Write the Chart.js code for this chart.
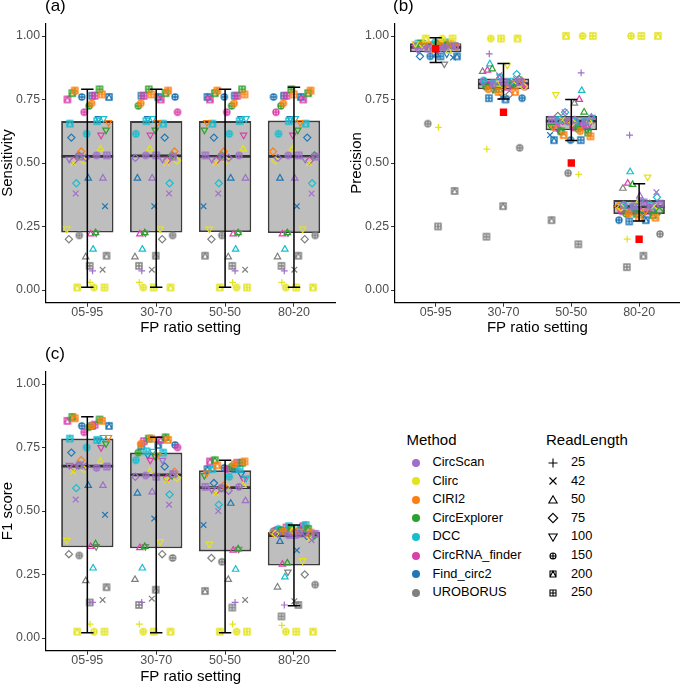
<!DOCTYPE html>
<html>
<head>
<meta charset="utf-8">
<script src="https://cdn.jsdelivr.net/npm/chart.js@4.4.0/dist/chart.umd.min.js"></script>
<style>
  body { margin: 0; background: #fff; width: 685px; height: 685px; position: relative; overflow: hidden;
         font-family: "Liberation Sans", Arial, Helvetica, sans-serif; }
  canvas { position: absolute; }
  .tag { position: absolute; font-size: 17px; line-height: 1; color: #000; }
  .lg { position: absolute; line-height: 1; color: #000; white-space: nowrap; }
  .lgTitle { font-size: 15px; }
  .lgItem { font-size: 12.8px; }
  .dot { position: absolute; width: 8px; height: 8px; border-radius: 50%; }
</style>
</head>
<body>
<canvas id="chartA" width="342" height="342" style="left:0;top:0"></canvas>
<canvas id="chartB" width="336" height="342" style="left:349px;top:0"></canvas>
<canvas id="chartC" width="342" height="343" style="left:0;top:342px"></canvas>
<div class="tag" style="left:45px;top:-3px">(a)</div>
<div class="tag" style="left:393px;top:-3px">(b)</div>
<div class="tag" style="left:45px;top:345px">(c)</div>
<div id="legend"></div>

<script>
const settings = ['05-95', '30-70', '50-50', '80-20'];
const methods = ['CircScan', 'Clirc', 'CIRI2', 'CircExplorer', 'DCC', 'CircRNA_finder', 'Find_circ2', 'UROBORUS'];
const readLengths = [25, 42, 50, 75, 100, 150, 200, 250];
const yTicks = [0, 0.25, 0.5, 0.75, 1];

const methodColors = ['#9F6FC9', '#E3E31C', '#FF7F0E', '#2CA02C', '#17BECF', '#DB3FA9', '#1F77B4', '#808080'];

// rows = methods, columns = read lengths; sensitivity hardly moves between settings
const sensitivity = [
  [0.075, 0.38, 0.44, 0.52, 0.515, 0.53, 0.525, 0.53],
  [0.03, 0.50, 0.555, 0.51, 0.24, 0.01, 0.01, 0.01],
  [null, null, null, 0.545, 0.66, 0.735, 0.785, 0.77],
  [null, null, 0.225, 0.53, 0.63, 0.725, 0.775, 0.79],
  [null, null, 0.16, 0.42, 0.675, 0.615, 0.655, 0.665],
  [null, null, 0.22, 0.51, 0.61, 0.70, 0.75, 0.765],
  [null, 0.33, 0.44, 0.60, 0.675, 0.76, 0.76, 0.765],
  [null, 0.08, 0.13, 0.20, 0.225, 0.215, 0.135, 0.095]
];

const precision0595 = [
  [0.95, 0.955, 0.96, 0.95, 0.945, 0.955, 0.95, 0.96],
  [0.64, 0.955, 0.94, 0.95, 0.97, 0.99, 0.99, 0.99],
  [null, null, null, 0.965, 0.96, 0.97, 0.965, 0.97],
  [null, null, 0.97, 0.96, 0.965, 0.97, 0.97, 0.965],
  [null, null, 0.96, 0.97, 0.97, 0.975, 0.97, 0.975],
  [null, null, 0.955, 0.965, 0.96, 0.965, 0.965, 0.96],
  [null, 0.915, 0.925, 0.92, 0.93, 0.92, 0.92, 0.92],
  [null, 0.96, 0.955, 0.96, 0.89, 0.655, 0.39, 0.25]
];
const precision3070 = [
  [0.93, 0.83, 0.835, 0.82, 0.815, 0.81, 0.82, 0.82],
  [0.555, 0.82, 0.81, 0.80, 0.885, 0.99, 0.99, 0.99],
  [null, null, null, 0.825, 0.805, 0.79, 0.78, 0.78],
  [null, null, 0.87, 0.83, 0.795, 0.80, 0.815, 0.79],
  [null, null, 0.89, 0.85, 0.84, 0.825, 0.82, 0.815],
  [null, null, 0.865, 0.81, 0.805, 0.80, 0.80, 0.81],
  [null, 0.76, 0.82, 0.81, 0.80, 0.755, 0.75, 0.755],
  [null, 0.845, 0.86, 0.77, 0.79, 0.56, 0.33, 0.21]
];
const precision5050 = [
  [0.855, 0.70, 0.68, 0.67, 0.665, 0.66, 0.665, 0.67],
  [0.455, 0.67, 0.665, 0.66, 0.77, 1.00, 1.00, 1.00],
  [null, null, null, 0.66, 0.64, 0.625, 0.61, 0.605],
  [null, null, 0.70, 0.665, 0.645, 0.635, 0.625, 0.62],
  [null, null, 0.785, 0.70, 0.68, 0.665, 0.67, 0.665],
  [null, null, 0.75, 0.665, 0.655, 0.64, 0.64, 0.645],
  [null, 0.61, 0.66, 0.625, 0.63, 0.59, 0.59, 0.59],
  [null, 0.665, 0.735, 0.685, 0.665, 0.46, 0.275, 0.18]
];
const precision8020 = [
  [0.61, 0.385, 0.37, 0.335, 0.33, 0.33, 0.34, 0.345],
  [0.20, 0.33, 0.34, 0.325, 0.445, 1.00, 1.00, 1.00],
  [null, null, null, 0.33, 0.31, 0.30, 0.285, 0.285],
  [null, null, 0.415, 0.31, 0.30, 0.30, 0.295, 0.30],
  [null, null, 0.465, 0.365, 0.35, 0.335, 0.33, 0.325],
  [null, null, 0.42, 0.33, 0.315, 0.31, 0.31, 0.31],
  [null, 0.30, 0.33, 0.31, 0.305, 0.275, 0.275, 0.27],
  [null, 0.33, 0.40, 0.34, 0.33, 0.22, 0.135, 0.09]
];
const expectedPrecision = [0.95, 0.70, 0.50, 0.20];

const f1_0595 = [
  [0.14, 0.545, 0.60, 0.675, 0.68, 0.67, 0.68, 0.675],
  [0.055, 0.655, 0.695, 0.665, 0.385, 0.025, 0.025, 0.025],
  [null, null, null, 0.70, 0.79, 0.835, 0.865, 0.855],
  [null, null, 0.37, 0.68, 0.765, 0.83, 0.87, 0.86],
  [null, null, 0.275, 0.59, 0.79, 0.75, 0.785, 0.78],
  [null, null, 0.36, 0.67, 0.75, 0.81, 0.855, 0.84],
  [null, 0.485, 0.60, 0.73, 0.78, 0.835, 0.835, 0.835],
  [null, 0.15, 0.225, 0.33, 0.36, 0.325, 0.20, 0.14]
];
const f1_3070 = [
  [0.14, 0.525, 0.575, 0.635, 0.70, 0.64, 0.645, 0.635],
  [0.055, 0.62, 0.655, 0.63, 0.38, 0.025, 0.025, 0.025],
  [null, null, null, 0.655, 0.72, 0.765, 0.78, 0.785],
  [null, null, 0.36, 0.64, 0.715, 0.73, 0.79, 0.785],
  [null, null, 0.275, 0.565, 0.735, 0.70, 0.73, 0.735],
  [null, null, 0.355, 0.63, 0.70, 0.75, 0.78, 0.775],
  [null, 0.47, 0.57, 0.675, 0.72, 0.76, 0.76, 0.755],
  [null, 0.155, 0.23, 0.33, 0.36, 0.315, 0.19, 0.13]
];
const f1_5050 = [
  [0.14, 0.50, 0.54, 0.58, 0.585, 0.595, 0.59, 0.595],
  [0.055, 0.57, 0.60, 0.595, 0.37, 0.025, 0.025, 0.025],
  [null, null, null, 0.60, 0.65, 0.685, 0.68, 0.695],
  [null, null, 0.35, 0.59, 0.64, 0.675, 0.70, 0.69],
  [null, null, 0.27, 0.525, 0.63, 0.635, 0.665, 0.665],
  [null, null, 0.345, 0.58, 0.625, 0.665, 0.695, 0.69],
  [null, 0.445, 0.53, 0.61, 0.645, 0.67, 0.665, 0.665],
  [null, 0.15, 0.23, 0.315, 0.35, 0.30, 0.185, 0.12]
];
const f1_8020 = [
  [0.13, 0.385, 0.40, 0.41, 0.41, 0.405, 0.41, 0.41],
  [0.05, 0.39, 0.42, 0.41, 0.305, 0.025, 0.025, 0.025],
  [null, null, null, 0.415, 0.42, 0.42, 0.415, 0.42],
  [null, null, 0.295, 0.405, 0.42, 0.425, 0.43, 0.43],
  [null, null, 0.24, 0.395, 0.435, 0.43, 0.445, 0.44],
  [null, null, 0.29, 0.405, 0.415, 0.425, 0.44, 0.435],
  [null, 0.345, 0.38, 0.40, 0.41, 0.42, 0.425, 0.42],
  [null, 0.145, 0.20, 0.25, 0.26, 0.21, 0.13, 0.085]
];

// box statistics, one value per setting
const sensQ1 = [0.226, 0.226, 0.228, 0.224];
const sensMedian = [0.526, 0.528, 0.526, 0.526];
const sensQ3 = [0.665, 0.665, 0.665, 0.667];
const sensLow = [0.011, 0.011, 0.011, 0.011];
const sensHigh = [0.79, 0.79, 0.79, 0.798];

const precQ1 = [0.936, 0.790, 0.629, 0.299];
const precMedian = [0.955, 0.812, 0.665, 0.328];
const precQ3 = [0.971, 0.833, 0.685, 0.354];
const precLow = [0.896, 0.752, 0.589, 0.272];
const precHigh = [0.993, 0.892, 0.750, 0.418];

const f1Q1 = [0.357, 0.353, 0.341, 0.285];
const f1Median = [0.677, 0.642, 0.592, 0.403];
const f1Q3 = [0.785, 0.730, 0.660, 0.417];
const f1Low = [0.021, 0.021, 0.021, 0.127];
const f1High = [0.871, 0.790, 0.700, 0.445];

Chart.defaults.font.family = '"Liberation Sans", Arial, Helvetica, sans-serif';

// shapes for 150 / 200 / 250 that Chart.js has no built-in style for
function drawSymbol(ctx, ri, cx, cy, color, lw) {
  ctx.strokeStyle = color;
  ctx.lineWidth = lw;
  ctx.beginPath();
  if (ri === 0) {
    ctx.moveTo(cx - 4.5, cy); ctx.lineTo(cx + 4.5, cy);
    ctx.moveTo(cx, cy - 4.5); ctx.lineTo(cx, cy + 4.5);
  } else if (ri === 1) {
    ctx.moveTo(cx - 3.5, cy - 3.5); ctx.lineTo(cx + 3.5, cy + 3.5);
    ctx.moveTo(cx + 3.5, cy - 3.5); ctx.lineTo(cx - 3.5, cy + 3.5);
  } else if (ri === 2) {
    ctx.moveTo(cx, cy - 4.2); ctx.lineTo(cx + 4.2, cy + 3); ctx.lineTo(cx - 4.2, cy + 3); ctx.closePath();
  } else if (ri === 3) {
    ctx.moveTo(cx, cy - 4.7); ctx.lineTo(cx + 4.7, cy); ctx.lineTo(cx, cy + 4.7); ctx.lineTo(cx - 4.7, cy); ctx.closePath();
  } else if (ri === 4) {
    ctx.moveTo(cx, cy + 4.2); ctx.lineTo(cx + 4.2, cy - 3); ctx.lineTo(cx - 4.2, cy - 3); ctx.closePath();
  } else if (ri === 5) {
    ctx.arc(cx, cy, 3, 0, Math.PI * 2);
    ctx.moveTo(cx - 3, cy); ctx.lineTo(cx + 3, cy);
    ctx.moveTo(cx, cy - 3); ctx.lineTo(cx, cy + 3);
  } else if (ri === 6) {
    ctx.rect(cx - 3, cy - 3, 6, 6);
    ctx.moveTo(cx - 3, cy + 3); ctx.lineTo(cx, cy - 3); ctx.lineTo(cx + 3, cy + 3);
  } else {
    ctx.rect(cx - 3, cy - 3, 6, 6);
    ctx.moveTo(cx - 3, cy); ctx.lineTo(cx + 3, cy);
    ctx.moveTo(cx, cy - 3); ctx.lineTo(cx, cy + 3);
  }
  ctx.stroke();
}

function symbolImage(ri, color) {
  const c = document.createElement('canvas');
  c.width = 10; c.height = 10;
  drawSymbol(c.getContext('2d'), ri, 5, 5, color, 1.4);
  return c;
}

const builtinStyles = ['cross', 'crossRot', 'triangle', 'rectRot', 'triangle'];
const pointStyles = methodColors.map(col =>
  builtinStyles.concat([5, 6, 7].map(ri => symbolImage(ri, col))));
const pointSizes = [3.4, 4, 3.7, 3.6, 3.7, 4, 4, 4];

// spreads the points of one setting sideways, like geom_jitter
function jitter(mi, ri, si) {
  const k = si * 64 + mi * 8 + ri + 1;
  return ((k * 0.6180339887) % 1 - 0.5) * 0.64;
}

const boxPlugin = {
  id: 'boxStats',
  afterDatasetDraw(chart, args, opts) {
    const { ctx } = chart;
    const x = chart.scales.x, y = chart.scales.y;
    const unit = x.getPixelForValue(2) - x.getPixelForValue(1);
    ctx.save();
    if (args.meta.type === 'bar') {
      ctx.strokeStyle = '#333';
      ctx.lineWidth = 2.8;
      opts.median.forEach((m, i) => {
        const px = x.getPixelForValue(i + 1), py = y.getPixelForValue(m);
        ctx.beginPath();
        ctx.moveTo(px - unit * 0.375, py); ctx.lineTo(px + unit * 0.375, py);
        ctx.stroke();
      });
    }
    if (args.index === 1) {
      ctx.strokeStyle = '#000';
      ctx.lineWidth = 1.5;
      opts.low.forEach((lo, i) => {
        const px = x.getPixelForValue(i + 1);
        const pLo = y.getPixelForValue(lo), pHi = y.getPixelForValue(opts.high[i]);
        const cap = unit * 0.09;
        ctx.beginPath();
        ctx.moveTo(px, pLo); ctx.lineTo(px, pHi);
        ctx.moveTo(px - cap, pLo); ctx.lineTo(px + cap, pLo);
        ctx.moveTo(px - cap, pHi); ctx.lineTo(px + cap, pHi);
        ctx.stroke();
      });
    }
    ctx.restore();
  }
};

function buildChart(id, cfg) {
  const canvas = document.getElementById(id);
  const H = canvas.height;
  const datasets = [{
    type: 'bar',
    data: settings.map((s, i) => ({ x: i + 1, y: [cfg.q1[i], cfg.q3[i]] })),
    backgroundColor: '#BEBEBE',
    borderColor: '#3C3C3C',
    borderWidth: 1.8,
    borderSkipped: false,
    categoryPercentage: 1,
    barPercentage: 0.76,
    order: 2
  }];
  methods.forEach((m, mi) => {
    const pts = [];
    cfg.tables.forEach((tab, si) => {
      tab[mi].forEach((v, ri) => {
        if (v !== null) pts.push({ x: si + 1 + jitter(mi, ri, si), y: v, rl: ri });
      });
    });
    datasets.push({
      type: 'scatter',
      label: m,
      data: pts,
      order: 1,
      pointStyle: c => c.raw ? pointStyles[mi][c.raw.rl] : 'circle',
      pointRotation: c => (c.raw && c.raw.rl === 4) ? 180 : 0,
      pointRadius: c => c.raw ? pointSizes[c.raw.rl] : 3,
      pointBorderColor: methodColors[mi],
      pointBackgroundColor: 'rgba(0,0,0,0)',
      pointBorderWidth: 1.2
    });
  });
  if (cfg.expected) {
    datasets.push({
      type: 'scatter',
      label: 'Expected',
      data: cfg.expected.map((v, i) => ({ x: i + 1, y: v })),
      order: 0,
      pointStyle: 'rect',
      pointRadius: 5.2,
      pointBackgroundColor: '#FF0000',
      pointBorderColor: '#FF0000',
      pointBorderWidth: 0
    });
  }

  return new Chart(canvas.getContext('2d'), {
    type: 'bar',
    data: { datasets },
    plugins: [boxPlugin],
    options: {
      responsive: false,
      animation: false,
      events: [],
      layout: { padding: { left: 0, right: cfg.right, top: cfg.top, bottom: 0 } },
      plugins: {
        legend: { display: false },
        tooltip: { enabled: false },
        boxStats: { median: cfg.median, low: cfg.low, high: cfg.high }
      },
      scales: {
        x: {
          type: 'linear',
          min: 0.4,
          max: 4.6,
          offset: false,
          afterBuildTicks: s => { s.ticks = settings.map((_, i) => ({ value: i + 1 })); },
          afterFit: s => { s.height = H - cfg.bottom; },
          ticks: {
            callback: v => settings[v - 1] || '',
            color: '#4D4D4D',
            font: { size: 12.5, lineHeight: 1 },
            padding: 0,
            maxRotation: 0,
            autoSkip: false
          },
          grid: { display: true, drawOnChartArea: false, drawTicks: true, tickLength: 4, color: '#333', offset: false },
          border: { display: true, color: '#000', width: 1.2 },
          title: { display: true, text: 'FP ratio setting', color: '#000',
                   font: { size: 15, lineHeight: 1 }, padding: { top: 0, bottom: cfg.titlePad } }
        },
        y: {
          type: 'linear',
          min: -0.05,
          max: 1.05,
          afterBuildTicks: s => { s.ticks = yTicks.map(v => ({ value: v })); },
          afterFit: s => { s.width = 46; },
          ticks: { callback: v => v.toFixed(2), color: '#4D4D4D', font: { size: 12.3 }, padding: 2 },
          grid: { display: true, drawOnChartArea: false, drawTicks: true, tickLength: 4, color: '#333' },
          border: { display: true, color: '#000', width: 1.2 },
          title: { display: true, text: cfg.yTitle, color: '#000',
                   font: { size: 15, lineHeight: 1 }, padding: { top: 0, bottom: 0 } }
        }
      }
    }
  });
}

buildChart('chartA', {
  tables: [sensitivity, sensitivity, sensitivity, sensitivity],
  q1: sensQ1, median: sensMedian, q3: sensQ3, low: sensLow, high: sensHigh,
  yTitle: 'Sensitivity', top: 23.3, bottom: 302.7, right: 6.7, titlePad: 6.5
});
buildChart('chartB', {
  tables: [precision0595, precision3070, precision5050, precision8020],
  q1: precQ1, median: precMedian, q3: precQ3, low: precLow, high: precHigh,
  expected: expectedPrecision,
  yTitle: 'Precision', top: 23.3, bottom: 302.7, right: 0, titlePad: 6.5
});
buildChart('chartC', {
  tables: [f1_0595, f1_3070, f1_5050, f1_8020],
  q1: f1Q1, median: f1Median, q3: f1Q3, low: f1Low, high: f1High,
  yTitle: 'F1 score', top: 29.3, bottom: 308.7, right: 6.7, titlePad: 1
});

// legend
const legend = document.getElementById('legend');
function addText(cls, text, left, top) {
  const d = document.createElement('div');
  d.className = 'lg ' + cls;
  d.style.left = left + 'px';
  d.style.top = top + 'px';
  d.textContent = text;
  legend.appendChild(d);
}
addText('lgTitle', 'Method', 406.5, 432);
addText('lgTitle', 'ReadLength', 546, 432);
methods.forEach((m, i) => {
  const cy = 462.7 + i * 18.57;
  const dot = document.createElement('div');
  dot.className = 'dot';
  dot.style.left = (415.7 - 4) + 'px';
  dot.style.top = (cy - 4) + 'px';
  dot.style.background = methodColors[i];
  legend.appendChild(dot);
  addText('lgItem', m, 432.5, cy - 6.6);
});
readLengths.forEach((r, i) => {
  const cy = 462.7 + i * 18.57;
  const c = document.createElement('canvas');
  c.width = 14; c.height = 14;
  c.style.left = (553.3 - 7) + 'px';
  c.style.top = (cy - 7) + 'px';
  drawSymbol(c.getContext('2d'), i, 7, 7, '#000', 1.1);
  legend.appendChild(c);
  addText('lgItem', String(r), 571, cy - 6.6);
});
</script>
</body>
</html>
